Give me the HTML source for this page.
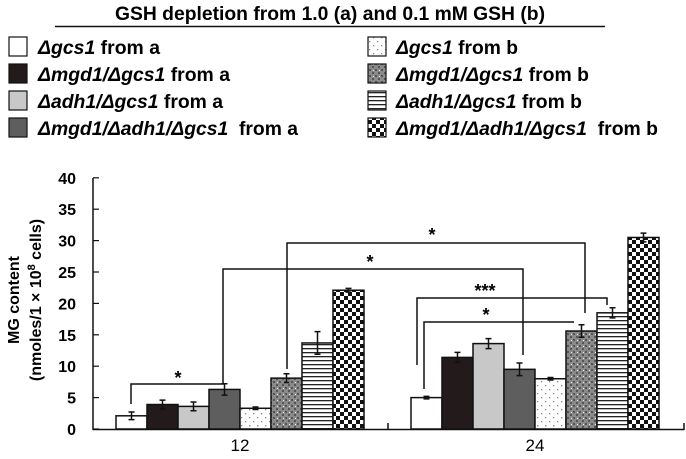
<!DOCTYPE html>
<html><head><meta charset="utf-8"><style>
body{margin:0;background:#fff;}
svg{display:block;font-family:"Liberation Sans",sans-serif;}
.lg{font-size:19px;font-weight:bold;}
</style></head><body>
<svg id="c" width="686" height="459" viewBox="0 0 686 459">
<defs>
<pattern id="pDot" width="8" height="8" patternUnits="userSpaceOnUse"><rect width="8" height="8" fill="#fff"/><rect x="1" y="1" width="1.3" height="1.3" fill="#888"/><rect x="5" y="5" width="1.3" height="1.3" fill="#888"/></pattern>
<pattern id="pGray" width="6" height="6" patternUnits="userSpaceOnUse"><rect width="6" height="6" fill="#8a8a8a"/><rect x="0" y="0" width="2" height="2" fill="#555"/><rect x="3" y="3" width="2" height="2" fill="#555"/><rect x="1" y="4" width="1" height="1" fill="#eee"/></pattern>
<pattern id="pStripe" width="6" height="4" patternUnits="userSpaceOnUse"><rect width="6" height="4" fill="#fff"/><rect y="0" width="6" height="1.3" fill="#222"/></pattern>
<pattern id="pCheck" width="8" height="8" patternUnits="userSpaceOnUse"><rect width="8" height="8" fill="#fff"/><rect width="4" height="4" fill="#111"/><rect x="4" y="4" width="4" height="4" fill="#111"/></pattern>
</defs>
<text x="115" y="20" font-size="19" font-weight="bold" textLength="430" lengthAdjust="spacingAndGlyphs">GSH depletion from 1.0 (a) and 0.1 mM GSH (b)</text>
<line x1="55" y1="26.5" x2="605" y2="26.5" stroke="#111" stroke-width="1.5"/>
<g id="legend"></g>
<g id="plot"></g>
<text transform="translate(19,300) rotate(-90)" text-anchor="middle" font-size="16" font-weight="bold">MG content</text>
<text transform="translate(41,300) rotate(-90)" text-anchor="middle" font-size="16" font-weight="bold">(nmoles/1 × 10<tspan dy="-6" font-size="11">8</tspan><tspan dy="6"> cells)</tspan></text>
</svg>
<script>
const categories=["12","24"];
const seriesNames=["Δgcs1 from a","Δmgd1/Δgcs1 from a","Δadh1/Δgcs1 from a","Δmgd1/Δadh1/Δgcs1 from a","Δgcs1 from b","Δmgd1/Δgcs1 from b","Δadh1/Δgcs1 from b","Δmgd1/Δadh1/Δgcs1 from b"];
const values12=[2.1,3.9,3.6,6.3,3.3,8.1,13.7,22.1];
const values24=[5.0,11.4,13.6,9.5,8.0,15.6,18.5,30.5];
const errors12=[0.6,0.7,0.7,0.9,0.2,0.7,1.8,0.3];
const errors24=[0.2,0.8,0.8,1.0,0.2,1.0,0.8,0.7];
const yTicks=[0,5,10,15,20,25,30,35,40];
const fills=["#fff","#231a1b","#c8c8c8","#5e5e5e","url(#pDot)","url(#pGray)","url(#pStripe)","url(#pCheck)"];
const legendWidths=[122,192,185,260,122,193,186,262];
const NS="http://www.w3.org/2000/svg";
function mk(t,a,p){const e=document.createElementNS(NS,t);for(const k in a)e.setAttribute(k,a[k]);p.appendChild(e);return e;}
const y=v=>429-v*6.28;
const groupStart=[116,411], bw=31;
const bx=(g,i)=>groupStart[g]+i*bw;
const plot=document.getElementById('plot');
let ax=mk('line',{x1:93,y1:178,x2:93,y2:430,stroke:'#111','stroke-width':1.5},plot);


let xa=mk('line',{x1:93,y1:429.5,x2:684,y2:429.5,stroke:'#111','stroke-width':1.5},plot);


[388,684].forEach(x=>{mk('line',{x1:x,y1:423,x2:x,y2:430,stroke:'#111','stroke-width':1.5},plot);});
yTicks.forEach(t=>{
  mk('line',{x1:93,y1:y(t),x2:99,y2:y(t),stroke:'#111','stroke-width':1.2},plot);
  const tx=mk('text',{x:76,y:y(t)+6,'text-anchor':'end','font-size':16,'font-weight':'bold'},plot);
  tx.textContent=t;
  
  
});
const vals=[values12,values24], errs=[errors12,errors24];
vals.forEach((arr,g)=>{
  arr.forEach((v,i)=>{
    const r=mk('rect',{x:bx(g,i),y:y(v),width:bw,height:429-y(v),fill:fills[i],stroke:'#111','stroke-width':1.5},plot);
    
    
    const cx=bx(g,i)+bw/2,e=errs[g][i];
    const eb=mk('path',{d:`M${cx},${y(v+e)}V${y(v-e)}M${cx-3},${y(v+e)}H${cx+3}M${cx-3},${y(v-e)}H${cx+3}`,stroke:'#111','stroke-width':1.5,fill:'none'},plot);
    
    
  });
  const lt=mk('text',{x:bx(g,4),y:451,'text-anchor':'middle','font-size':17},plot);
  lt.textContent=categories[g];
  
  
});
const brackets=[
 {d:'M131,404V384H223V371',sx:178,sy:384,s:'*'},
 {d:'M223,371V269H523V355',sx:370,sy:268,s:'*'},
 {d:'M287,369V243H585V313',sx:432,sy:241,s:'*'},
 {d:'M417,365V298H607V305',sx:485,sy:297,s:'***'},
 {d:'M424,389V322H574',sx:486,sy:321,s:'*'}
];
brackets.forEach(b=>{
  const p=mk('path',{d:b.d,stroke:'#111','stroke-width':1.5,fill:'none'},plot);
  
  
  const t=mk('text',{x:b.sx,y:b.sy,'text-anchor':'middle','font-size':18,'font-weight':'bold'},plot);
  t.textContent=b.s;
  
  
});
const lg=document.getElementById('legend');
seriesNames.forEach((n,i)=>{
  const col=Math.floor(i/4),row=i%4;
  const bxL=col?368:9, yy=37+row*27;
  const r=mk('rect',{x:bxL,y:yy,width:18,height:19,fill:fills[i],stroke:'#111','stroke-width':1.2},lg);
  
  
  const t=mk('text',{x:col?396:38,y:yy+17,'class':'lg',textLength:legendWidths[i],lengthAdjust:'spacingAndGlyphs'},lg);
  const parts=n.split(' from ');
  const it=mk('tspan',{'font-style':'italic'},t);it.textContent=parts[0];
  const rest=mk('tspan',{},t);rest.textContent=(i%4===3?'\u00a0\u00a0':' ')+'from '+parts[1];
  
  
});
</script>
</body></html>
